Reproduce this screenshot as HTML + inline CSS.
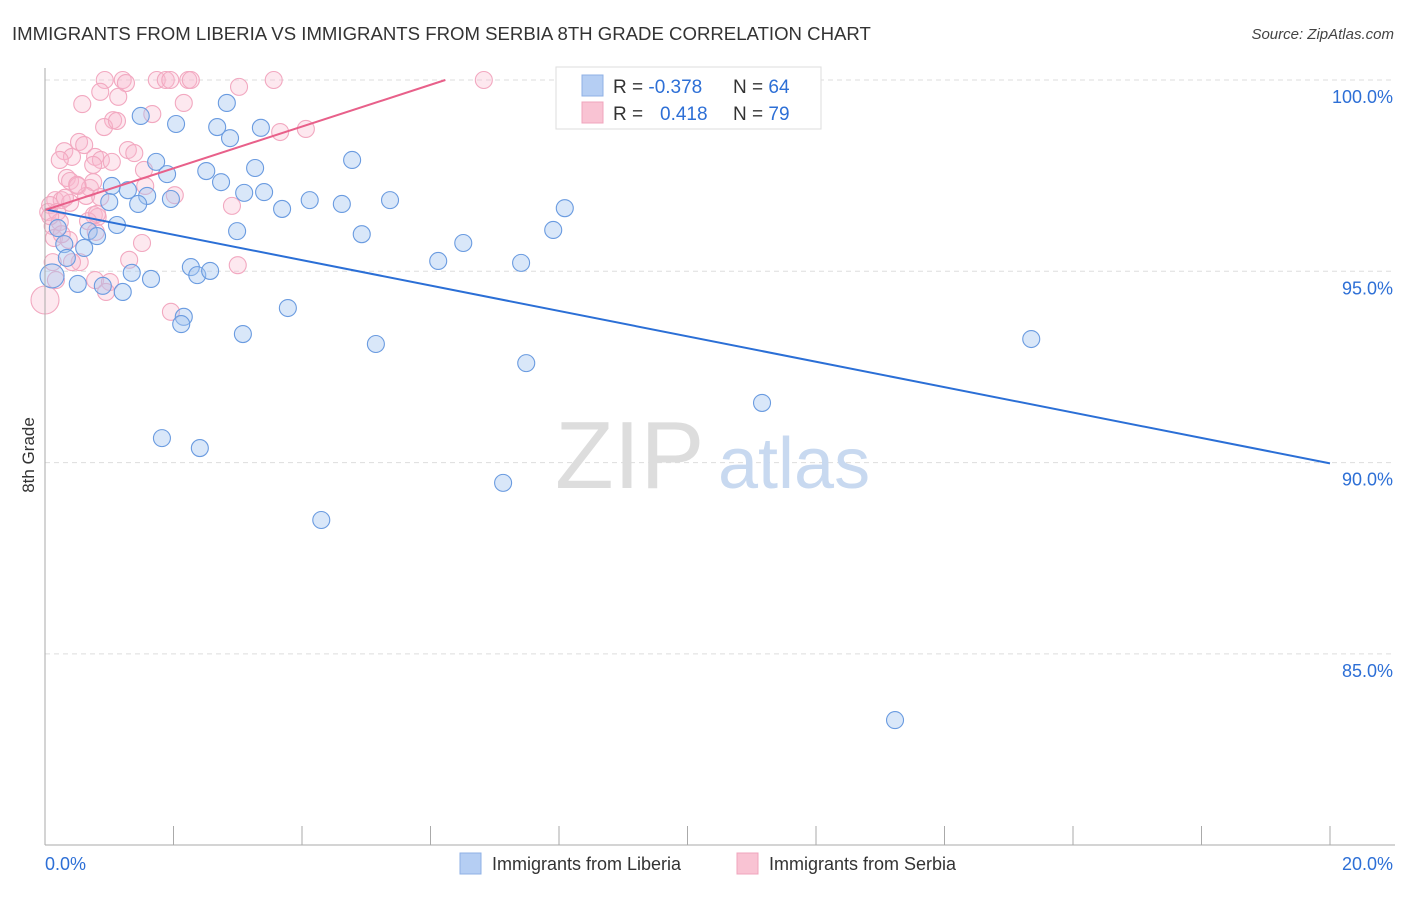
<!DOCTYPE html>
<html><head><meta charset="utf-8"><style>
body{margin:0;background:#fff;font-family:"Liberation Sans",sans-serif}
svg text{font-family:"Liberation Sans",sans-serif}
</style></head><body>
<svg id="chart" width="1406" height="892" xmlns="http://www.w3.org/2000/svg">
<text x="12" y="40" font-size="18.6" fill="#333">IMMIGRANTS FROM LIBERIA VS IMMIGRANTS FROM SERBIA 8TH GRADE CORRELATION CHART</text>
<text x="1394" y="39" font-size="15" fill="#444" font-style="italic" text-anchor="end">Source: ZipAtlas.com</text>
<g id="grid"></g>
<text x="555" y="488" font-size="96" fill="#ddd" font-family="Liberation Serif">ZIP</text>
<text x="718" y="488" font-size="72" fill="#c8d9f0">atlas</text>
<g id="pts"></g>
<g id="axes"></g>
<text transform="translate(34,455) rotate(-90)" font-size="17" fill="#333" text-anchor="middle">8th Grade</text>
<g>
<rect x="556" y="67" width="265" height="62" fill="#fff" stroke="#ddd"/>
<rect x="582" y="75" width="21" height="21" fill="#b5cef3" stroke="#8fb0e6"/>
<rect x="582" y="102" width="21" height="21" fill="#f9c3d3" stroke="#f0a5bd"/>
<text x="613" y="93" font-size="19" fill="#333">R = <tspan fill="#2d6fd6">-0.378</tspan></text>
<text x="733" y="93" font-size="19" fill="#333">N = <tspan fill="#2d6fd6">64</tspan></text>
<text x="613" y="120" font-size="19" fill="#333">R = <tspan fill="#2d6fd6" x="660">0.418</tspan></text>
<text x="733" y="120" font-size="19" fill="#333">N = <tspan fill="#2d6fd6">79</tspan></text>
</g>
<g>
<rect x="460" y="853" width="21" height="21" fill="#b5cef3" stroke="#8fb0e6"/>
<text x="492" y="870" font-size="18" fill="#333">Immigrants from Liberia</text>
<rect x="737" y="853" width="21" height="21" fill="#f9c3d3" stroke="#f0a5bd"/>
<text x="769" y="870" font-size="18" fill="#333">Immigrants from Serbia</text>
</g>
</svg>
<script>
const blueX=[1.49,2.04,2.68,2.83,3.36,2.88,1.73,1.90,2.51,2.74,3.27,3.10,3.41,4.78,1.04,1.29,1.59,1.45,1.96,1.00,1.12,0.68,0.81,2.99,3.69,4.12,4.62,5.37,4.93,6.51,7.91,8.09,0.30,0.61,0.34,0.51,0.90,1.21,1.35,1.65,2.27,2.37,2.57,0.11,2.16,2.12,3.08,3.78,5.15,6.12,7.41,7.49,11.16,15.35,1.82,2.41,4.30,7.13,13.23,9.39,0.20];
const blueY=[99.06,98.85,98.77,99.40,98.75,98.48,97.86,97.54,97.62,97.33,97.70,97.05,97.07,97.91,97.23,97.12,96.97,96.76,96.89,96.81,96.21,96.05,95.92,96.05,96.63,96.86,96.76,96.86,95.97,95.74,96.08,96.65,95.71,95.61,95.35,94.67,94.62,94.46,94.96,94.80,95.11,94.90,95.01,94.88,93.81,93.62,93.36,94.04,93.10,95.27,95.22,92.60,91.56,93.23,90.64,90.38,88.50,89.47,83.27,100.05,96.13];
const pinkX=[0.93,1.21,1.26,1.74,1.88,1.95,2.23,2.27,3.56,6.83,3.02,0.86,1.14,0.58,2.16,1.67,1.06,0.92,1.12,4.06,3.66,0.53,0.61,0.30,0.42,0.23,1.29,1.39,0.78,0.87,0.75,1.04,1.54,0.34,0.39,0.51,0.70,1.56,0.75,2.02,0.16,0.26,0.39,0.08,0.05,0.19,0.64,0.86,0.76,0.82,0.67,0.12,0.23,0.14,0.37,1.51,0.79,0.54,0.42,0.12,1.31,0.78,1.01,0.95,3.00,2.91,1.96,0.00,0.81,0.50,0.26,0.08,0.31,0.17];
const pinkY=[100,100,99.92,100,100,100,100,100,100,100,99.82,99.69,99.56,99.37,99.40,99.11,98.95,98.77,98.93,98.72,98.64,98.38,98.30,98.14,97.99,97.91,98.17,98.09,97.99,97.91,97.78,97.86,97.65,97.44,97.36,97.23,97.18,97.23,97.33,96.99,96.86,96.86,96.79,96.73,96.55,96.55,96.97,96.94,96.47,96.42,96.31,96.18,96.29,95.87,95.82,95.74,96.03,95.24,95.24,95.24,95.30,94.77,94.72,94.46,95.16,96.71,93.94,94.25,96.50,97.26,95.97,96.44,96.92,94.77];
const blueTrendX=[0,20], blueTrendY=[96.62,89.98];
const pinkTrendX=[0,6.23], pinkTrendY=[96.6,100];
const yTicks=[100,95,90,85];
const yTickLabels=["100.0%","95.0%","90.0%","85.0%"];
const xTickLabels=["0.0%","20.0%"];
const NS="http://www.w3.org/2000/svg";
const sx=v=>45+v*64.25, sy=v=>80+(100-v)*38.26;
function mk(t,a,p){const e=document.createElementNS(NS,t);for(const k in a)e.setAttribute(k,a[k]);p.appendChild(e);return e;}
const grid=document.getElementById('grid'),axes=document.getElementById('axes'),pts=document.getElementById('pts');
yTicks.forEach((t,i)=>{
 const l=mk('line',{x1:45,x2:1395,y1:sy(t),y2:sy(t),stroke:'#ddd','stroke-dasharray':'5,4'},grid);
 
 
 const tx=mk('text',{x:1393,y:sy(t)+23,'font-size':18,fill:'#2d6fd6','text-anchor':'end'},axes);
 tx.textContent=yTickLabels[i];
 
 
});
mk('line',{x1:45,x2:45,y1:68,y2:845,stroke:'#aaa'},axes);
mk('line',{x1:45,x2:1395,y1:845,y2:845,stroke:'#aaa'},axes);
for(let i=0;i<=10;i++){const t=mk('line',{x1:sx(i*2),x2:sx(i*2),y1:826,y2:845,stroke:'#aaa'},axes);}
[[0,'start',45],[20,'end',1393]].forEach((d,i)=>{const t=mk('text',{x:d[2],y:870,'font-size':18,fill:'#2d6fd6','text-anchor':d[1]},axes);t.textContent=xTickLabels[i];});
function dots(X,Y,fill,stroke,name,bigR){X.forEach((x,i)=>{const big=(x<=0.12&&(Y[i]<95));const c=mk('circle',{cx:sx(x),cy:sy(Y[i]),r:big?bigR:8.5,fill:fill,stroke:stroke,'stroke-width':1.1},pts);
 
 });}
dots(pinkX,pinkY,'rgba(248,185,205,0.33)','#f2a8c0','serbia-point',14);
dots(blueX,blueY,'rgba(165,198,240,0.42)','#6a9be0','liberia-point',12);
const bl=mk('line',{x1:sx(blueTrendX[0]),y1:sy(blueTrendY[0]),x2:sx(blueTrendX[1]),y2:sy(blueTrendY[1]),stroke:'#2b6fd6','stroke-width':2},pts);


const pl=mk('line',{x1:sx(pinkTrendX[0]),y1:sy(pinkTrendY[0]),x2:sx(pinkTrendX[1]),y2:sy(pinkTrendY[1]),stroke:'#e8608a','stroke-width':2},pts);


</script>
</body></html>
